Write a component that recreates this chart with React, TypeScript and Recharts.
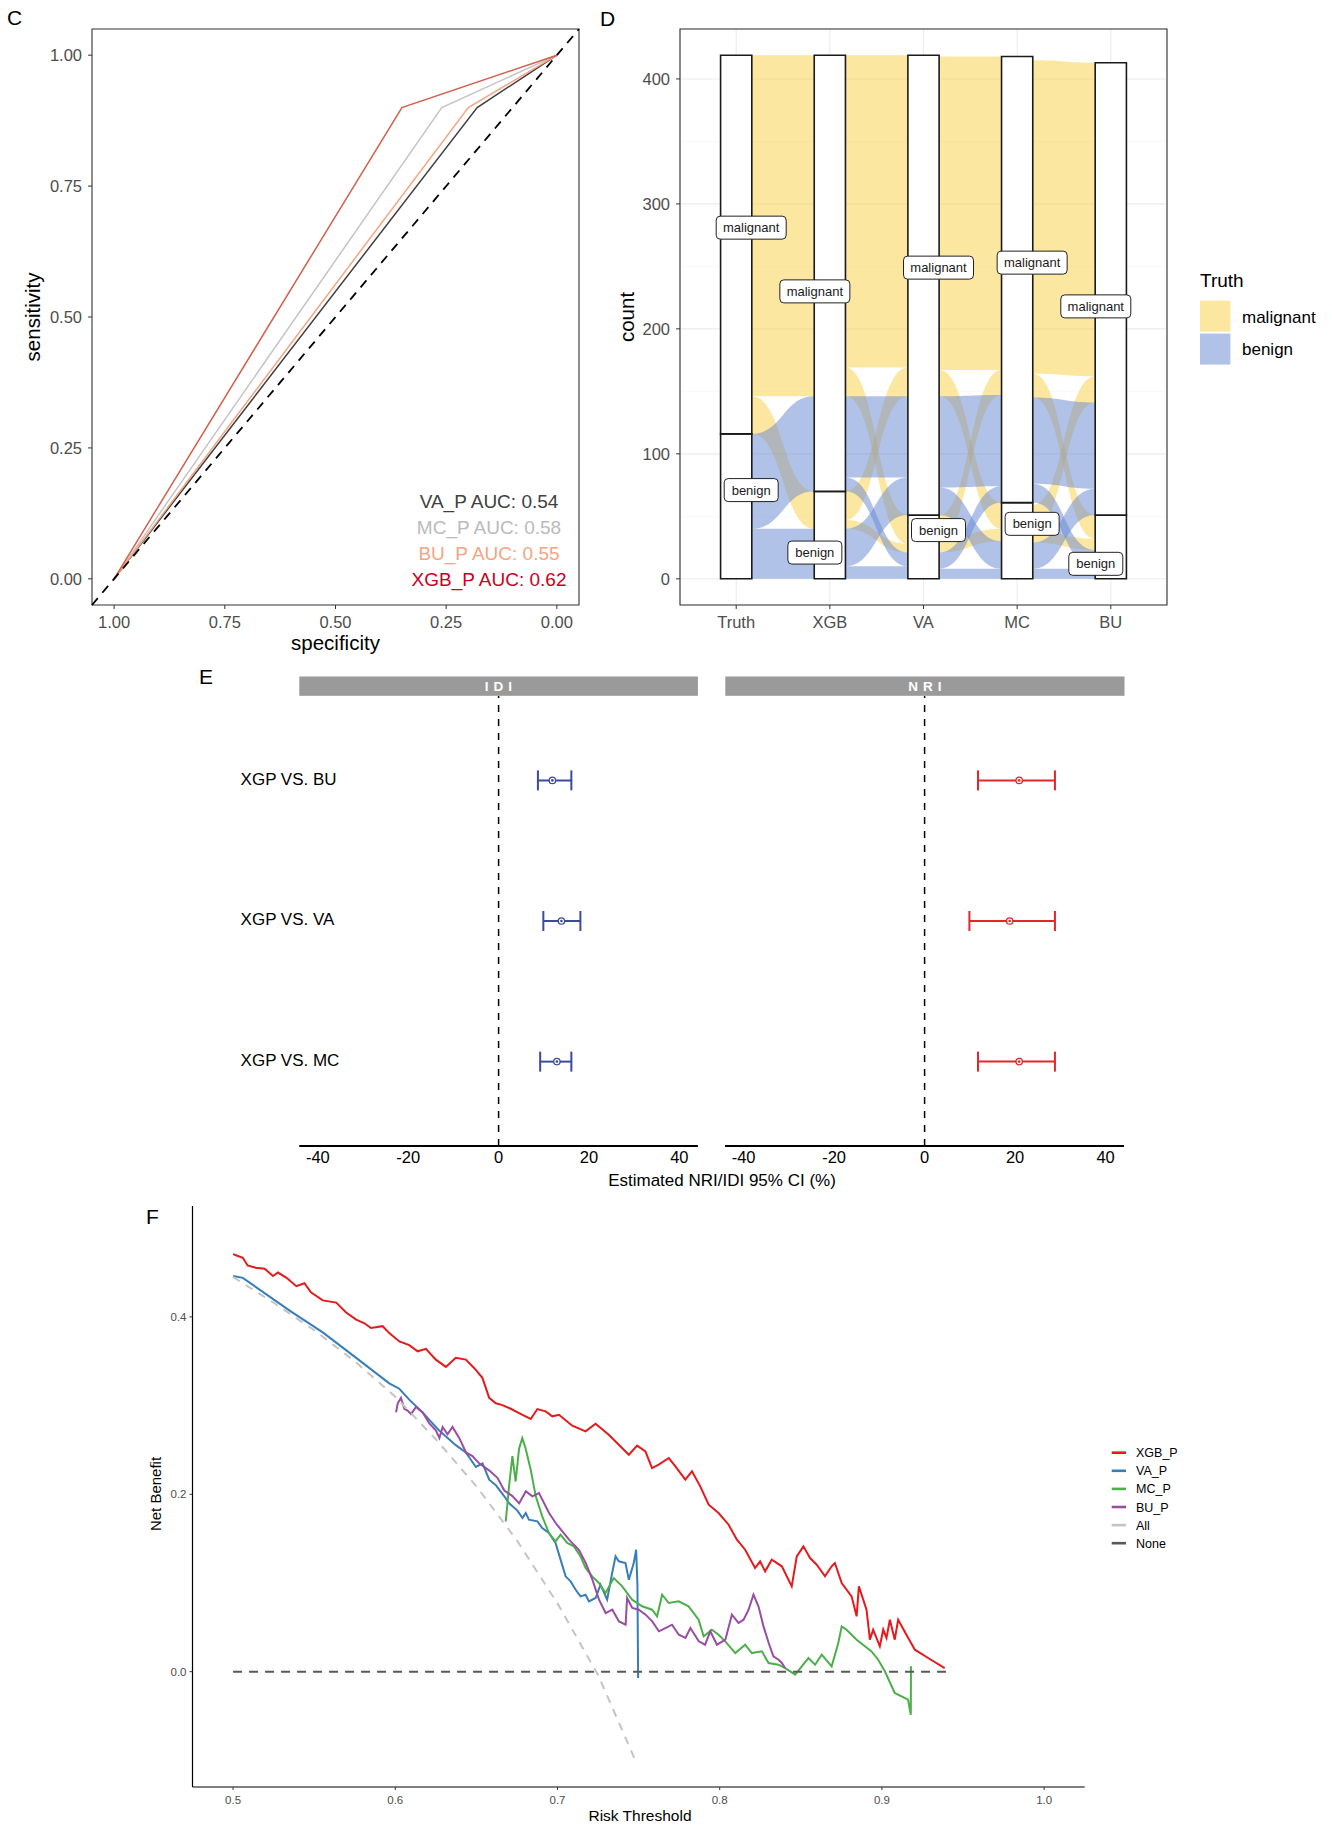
import React from "react";
import {
  ComposedChart,
  LineChart,
  Line,
  Area,
  Scatter,
  ErrorBar,
  XAxis,
  YAxis,
  CartesianGrid,
  ReferenceArea,
  ReferenceLine,
} from "recharts";

const FONT = "'Liberation Sans', Arial, Helvetica, sans-serif";
const TICK_GREY = "#4d4d4d";

// ---------- C: ROC curves ----------
const rocModels = ["VA_P", "MC_P", "BU_P", "XGB_P"];
const rocTextColors = ["#404040", "#bababa", "#f4a582", "#ca0020"];
const rocLineColors = ["#404040", "#c4c4c4", "#f4a582", "#d35f4c"];
const rocKneeSpec = [0.18, 0.26, 0.2, 0.35];
const rocKneeSens = [0.9, 0.9, 0.9, 0.9];
const rocAuc = ["0.54", "0.58", "0.55", "0.62"];
const rocTicks = [0, 0.25, 0.5, 0.75, 1];

// ---------- D: alluvial ----------
const axesD = ["Truth", "XGB", "VA", "MC", "BU"];
const benignCount = [116, 70, 51, 61, 51];
const malignantCount = [303, 349, 368, 357, 362];
// [from stratum, to stratum, truth, count], 0 = benign, 1 = malignant
const flowsTruthXgb = [[0, 0, 0, 40], [0, 1, 0, 76], [1, 0, 1, 30], [1, 1, 1, 273]];
const flowsXgbVa = [
  [0, 0, 0, 10], [0, 1, 0, 30], [1, 0, 0, 11], [1, 1, 0, 65],
  [0, 0, 1, 7], [0, 1, 1, 23], [1, 0, 1, 23], [1, 1, 1, 250],
];
const flowsVaMc = [
  [0, 0, 0, 8], [0, 1, 0, 13], [1, 0, 0, 22], [1, 1, 0, 73],
  [0, 0, 1, 10], [0, 1, 1, 20], [1, 0, 1, 21], [1, 1, 1, 251],
];
const flowsMcBu = [
  [0, 0, 0, 8], [0, 1, 0, 21], [1, 0, 0, 15], [1, 1, 0, 69],
  [0, 0, 1, 9], [0, 1, 1, 21], [1, 0, 1, 19], [1, 1, 1, 251],
];
const labelHeightBenign = [71, 21, 39, 44, 12];
const labelHeightMalignant = [281, 230, 249, 253, 218];
const labelNudge = [15, -15, 15, 15, -15];
const truthColors = ["#6385d1", "#f9cf41"];

// ---------- E: IDI / NRI ----------
const comparisons = ["XGP VS. BU", "XGP VS. VA", "XGP VS. MC"];
const idiEst = [11.9, 13.9, 12.9];
const idiLow = [8.7, 9.9, 9.2];
const idiHigh = [16.1, 18.1, 16.1];
const nriEst = [20.9, 18.8, 20.9];
const nriLow = [11.8, 9.9, 11.8];
const nriHigh = [28.8, 28.8, 28.8];
const eTicks = [-40, -20, 0, 20, 40];

// ---------- F: decision curves ----------
const xgbCurve = [
  [0.5, 0.4707], [0.503, 0.4686], [0.506, 0.4666], [0.509, 0.458], [0.514, 0.4555], [0.5195, 0.4543],
  [0.5246, 0.446], [0.5277, 0.45], [0.533, 0.444], [0.539, 0.4346], [0.544, 0.4379], [0.548, 0.4276],
  [0.5553, 0.4186], [0.5636, 0.4161], [0.5697, 0.405], [0.5759, 0.3969], [0.581, 0.3928], [0.585, 0.3874],
  [0.5922, 0.3895], [0.5963, 0.3817], [0.6025, 0.3723], [0.6086, 0.3682], [0.6138, 0.3612], [0.6189, 0.364],
  [0.625, 0.3518], [0.6312, 0.3436], [0.6373, 0.3538], [0.6435, 0.3518], [0.6486, 0.3424], [0.6537, 0.3313],
  [0.6579, 0.3087], [0.662, 0.3026], [0.666, 0.3005], [0.6712, 0.2964], [0.6763, 0.2916], [0.6835, 0.2849],
  [0.6876, 0.2961], [0.6927, 0.2935], [0.6968, 0.2879], [0.7009, 0.2897], [0.7091, 0.2773], [0.7173, 0.271],
  [0.7235, 0.2796], [0.7316, 0.2672], [0.744, 0.2446], [0.7491, 0.2548], [0.7542, 0.2484], [0.7583, 0.2296],
  [0.7624, 0.2334], [0.7686, 0.2409], [0.7727, 0.2315], [0.7788, 0.2165], [0.7829, 0.2259], [0.788, 0.2089],
  [0.7932, 0.1883], [0.7993, 0.1789], [0.8055, 0.1657], [0.8106, 0.1488], [0.8157, 0.1375], [0.8218, 0.1169],
  [0.8249, 0.1244], [0.828, 0.1131], [0.8321, 0.1263], [0.8383, 0.1188], [0.8444, 0.0962], [0.8475, 0.13],
  [0.8516, 0.1413], [0.8557, 0.1281], [0.8598, 0.1206], [0.8649, 0.1075], [0.869, 0.1188], [0.871, 0.1225],
  [0.8752, 0.1], [0.8813, 0.0849], [0.8844, 0.0624], [0.8858, 0.0962], [0.8905, 0.0699], [0.8926, 0.0361],
  [0.8946, 0.0474], [0.8987, 0.0286], [0.9008, 0.0474], [0.9028, 0.038], [0.9049, 0.0586], [0.9079, 0.0361],
  [0.91, 0.0586], [0.9151, 0.0417], [0.9203, 0.0248], [0.9285, 0.0154], [0.9387, 0.0041],
];
const vaCurve = [
  [0.5, 0.4461], [0.506, 0.444], [0.5349, 0.4071], [0.5553, 0.3825], [0.5759, 0.3538], [0.5963, 0.3251],
  [0.6025, 0.319], [0.6086, 0.3067], [0.6168, 0.2923], [0.6271, 0.2718], [0.6373, 0.2554], [0.6435, 0.2472],
  [0.6497, 0.2308], [0.6538, 0.2349], [0.6579, 0.2165], [0.662, 0.2103], [0.6671, 0.198], [0.6702, 0.1898],
  [0.6753, 0.1816], [0.6784, 0.1733], [0.6804, 0.1789], [0.6824, 0.1714], [0.6876, 0.1695], [0.6906, 0.162],
  [0.6947, 0.1563], [0.6988, 0.1451], [0.7019, 0.1263], [0.705, 0.1075], [0.7081, 0.1018], [0.7112, 0.0924],
  [0.7142, 0.0849], [0.7173, 0.0868], [0.7194, 0.0793], [0.7235, 0.0831], [0.7265, 0.0981], [0.7306, 0.0812],
  [0.7337, 0.1112], [0.7358, 0.13], [0.7378, 0.1244], [0.7419, 0.1225], [0.744, 0.1037], [0.747, 0.1225],
  [0.7485, 0.1375], [0.7493, 0.0962], [0.7497, -0.0071],
];
const mcCurve = [
  [0.6681, 0.1693], [0.6702, 0.2103], [0.6722, 0.2431], [0.6742, 0.2144], [0.6763, 0.2513], [0.6783, 0.2634],
  [0.6804, 0.2513], [0.6835, 0.2277], [0.6866, 0.1977], [0.6906, 0.1751], [0.6947, 0.1563], [0.6988, 0.1469],
  [0.7019, 0.1545], [0.706, 0.1451], [0.7101, 0.1413], [0.7142, 0.13], [0.7173, 0.1169], [0.7214, 0.1075],
  [0.7255, 0.1], [0.7296, 0.0887], [0.7347, 0.1056], [0.7399, 0.0962], [0.746, 0.0812], [0.7522, 0.0737],
  [0.7583, 0.0699], [0.7614, 0.0624], [0.7645, 0.0868], [0.7686, 0.0774], [0.7747, 0.0793], [0.7808, 0.0737],
  [0.787, 0.0586], [0.7901, 0.0398], [0.7952, 0.0473], [0.7993, 0.0417], [0.8034, 0.0342], [0.8096, 0.021],
  [0.8157, 0.0304], [0.8198, 0.021], [0.826, 0.0229], [0.8301, 0.0098], [0.8362, 0.0079], [0.8404, 0.0041],
  [0.8465, -0.0034], [0.8506, 0.006], [0.8547, 0.0154], [0.8588, 0.0079], [0.8629, 0.0192], [0.869, 0.006],
  [0.8731, 0.0323], [0.8752, 0.0511], [0.8782, 0.0473], [0.8844, 0.0361], [0.8936, 0.0229], [0.8977, 0.0135],
  [0.9018, 0.0004], [0.9079, -0.024], [0.9161, -0.0316], [0.9178, -0.0485], [0.9179, 0.006],
];
const buCurve = [
  [0.6005, 0.2923], [0.6015, 0.3026], [0.6035, 0.3087], [0.6056, 0.2964], [0.6076, 0.2944], [0.6097, 0.2903],
  [0.6128, 0.2985], [0.6169, 0.2923], [0.621, 0.28], [0.6251, 0.2718], [0.6272, 0.2636], [0.6292, 0.2759],
  [0.6322, 0.2677], [0.6353, 0.2759], [0.6394, 0.2636], [0.6436, 0.2472], [0.6476, 0.2431], [0.6517, 0.2349],
  [0.658, 0.2267], [0.663, 0.2185], [0.6672, 0.2042], [0.6722, 0.198], [0.6764, 0.1898], [0.6805, 0.2033],
  [0.6845, 0.1977], [0.6886, 0.2014], [0.6948, 0.1789], [0.6989, 0.1676], [0.703, 0.1582], [0.7071, 0.1488],
  [0.7132, 0.1375], [0.7174, 0.1225], [0.7215, 0.1037], [0.7256, 0.0812], [0.7297, 0.0661], [0.7338, 0.0699],
  [0.7379, 0.0567], [0.742, 0.053], [0.7429, 0.0831], [0.7461, 0.0718], [0.7501, 0.0699], [0.7543, 0.0643],
  [0.7584, 0.0567], [0.7625, 0.0455], [0.7665, 0.0492], [0.7706, 0.053], [0.7748, 0.0417], [0.7789, 0.038],
  [0.7819, 0.0492], [0.7871, 0.0342], [0.791, 0.0304], [0.7942, 0.0455], [0.7983, 0.0304], [0.8035, 0.0361],
  [0.8075, 0.0643], [0.8116, 0.0549], [0.8147, 0.0586], [0.8178, 0.0699], [0.8208, 0.0868], [0.8239, 0.0737],
  [0.827, 0.0511], [0.8302, 0.0323], [0.8331, 0.0173], [0.8363, 0.0135], [0.8383, 0.0098], [0.8403, 0.0041],
];
const allCurve = [
  [0.5, 0.445], [0.525, 0.416], [0.55, 0.385], [0.575, 0.35], [0.6, 0.31], [0.625, 0.262],
  [0.65, 0.209], [0.675, 0.148], [0.7, 0.077], [0.7251, -0.004], [0.748, -0.1],
];
const noneCurve = [[0.5, 0], [0.94, 0]];
const dcaNames = ["XGB_P", "VA_P", "MC_P", "BU_P", "All", "None"];
const dcaColors = ["#e41a1c", "#377eb8", "#4daf4a", "#984ea3", "#c4c4c4", "#595959"];
const dcaCurves = [xgbCurve, vaCurve, mcCurve, buCurve, allCurve, noneCurve];

// ---------- derived tables ----------
const rocRows = (() => {
  const xs = Array.from(new Set([1, ...rocKneeSpec, 0])).sort((a, b) => b - a);
  return xs.map((spec) => {
    const row: any = { spec };
    rocModels.forEach((m, i) => {
      if (spec === 1) row[m] = 0;
      else if (spec === 0) row[m] = 1;
      else if (spec === rocKneeSpec[i]) row[m] = rocKneeSens[i];
    });
    return row;
  });
})();

const HALF = 1 / 6;
const ribbons: { key: string; truth: number }[] = [];
const flowRows: any[] = [];
[flowsTruthXgb, flowsXgbVa, flowsVaMc, flowsMcBu].forEach((flows, g) => {
  const place = (axis: number, own: number, other: number) => {
    const out: number[][] = [];
    [0, 1].forEach((s) => {
      let y = s === 0 ? 0 : benignCount[axis];
      flows
        .map((_, i) => i)
        .filter((i) => flows[i][own] === s)
        .sort((a, b) => flows[a][2] - flows[b][2] || flows[a][other] - flows[b][other])
        .forEach((i) => {
          out[i] = [y, y + flows[i][3]];
          y += flows[i][3];
        });
    });
    return out;
  };
  const lp = place(g, 0, 1);
  const rp = place(g + 1, 1, 0);
  const left: any = { x: g + HALF };
  const right: any = { x: g + 1 - HALF };
  flows.forEach((f, i) => {
    const key = `f${g}_${i}`;
    left[key] = lp[i];
    right[key] = rp[i];
    ribbons.push({ key, truth: f[2] });
  });
  flowRows.push(left, right);
});
// malignant first so benign ribbons lie on top (grey crossings)
ribbons.sort((a, b) => b.truth - a.truth);

const stratumLabels = axesD.flatMap((_, i) => [
  { x: i, y: labelHeightBenign[i], label: "benign", dx: labelNudge[i] },
  { x: i, y: labelHeightMalignant[i], label: "malignant", dx: labelNudge[i] },
]);

const idiRows = comparisons.map((_, i) => ({
  row: i,
  est: idiEst[i],
  err: [idiEst[i] - idiLow[i], idiHigh[i] - idiEst[i]],
}));
const nriRows = comparisons.map((_, i) => ({
  row: i,
  est: nriEst[i],
  err: [nriEst[i] - nriLow[i], nriHigh[i] - nriEst[i]],
}));

const dcaRows = (() => {
  const map = new Map<number, any>();
  dcaCurves.forEach((curve, k) => {
    curve.forEach(([t, v]) => {
      if (!map.has(t)) map.set(t, { t });
      map.get(t)[dcaNames[k]] = v;
    });
  });
  return Array.from(map.values()).sort((a, b) => a.t - b.t);
})();

// ---------- small renderers ----------
const StratumLabel = (props: any) => {
  const { cx, cy, payload } = props;
  const w = payload.label === "malignant" ? 70 : 54;
  const x = cx + payload.dx;
  return (
    <g>
      <rect x={x - w / 2} y={cy - 11.5} width={w} height={23} rx={4} fill="#fff" stroke="#222" strokeWidth={1} />
      <text x={x} y={cy + 4.6} textAnchor="middle" fontSize={13} fontFamily={FONT} fill="#1a1a1a">
        {payload.label}
      </text>
    </g>
  );
};

const pointShape = (color: string) => (props: any) => {
  const { cx, cy } = props;
  return (
    <g>
      <circle cx={cx} cy={cy} r={3.2} fill="#fff" stroke={color} strokeWidth={1.3} />
      <circle cx={cx} cy={cy} r={1.3} fill={color} />
    </g>
  );
};

const RowTick = (props: any) => (
  <text x={60.6} y={props.y} dy={4.5} fontSize={17} fontFamily={FONT} fill="#000">
    {comparisons[props.payload.value]}
  </text>
);

const absolute = (left: number, top: number): React.CSSProperties => ({ position: "absolute", left, top });

function RocPanel() {
  return (
    <div style={absolute(0, 0)}>
      <LineChart width={600} height={660} data={rocRows} margin={{ top: 29, right: 21, bottom: 0, left: 0 }}>
        <XAxis
          type="number"
          dataKey="spec"
          domain={[-0.05, 1.05]}
          reversed
          allowDataOverflow
          ticks={rocTicks}
          tickFormatter={(v) => Number(v).toFixed(2)}
          axisLine={false}
          tickLine={{ stroke: "#333" }}
          tickSize={4}
          tickMargin={7}
          height={55}
          tick={{ fill: TICK_GREY, fontSize: 16.5, fontFamily: FONT }}
        />
        <YAxis
          type="number"
          domain={[-0.05, 1.05]}
          allowDataOverflow
          ticks={rocTicks}
          tickFormatter={(v) => Number(v).toFixed(2)}
          axisLine={false}
          tickLine={{ stroke: "#333" }}
          tickSize={4}
          tickMargin={6}
          width={92}
          tick={{ fill: TICK_GREY, fontSize: 16.5, fontFamily: FONT }}
        />
        {rocModels.map((m, i) => (
          <Line
            key={m}
            dataKey={m}
            stroke={rocLineColors[i]}
            strokeWidth={1.5}
            dot={false}
            connectNulls
            isAnimationActive={false}
          />
        ))}
        <ReferenceLine
          segment={[{ x: 1.05, y: -0.05 }, { x: -0.05, y: 1.05 }]}
          stroke="#000"
          strokeWidth={1.8}
          strokeDasharray="9 7"
          ifOverflow="visible"
        />
        <ReferenceArea x1={-0.05} x2={1.05} y1={-0.05} y2={1.05} fill="none" stroke="#333" strokeWidth={1.1} ifOverflow="visible" />
      </LineChart>
    </div>
  );
}

function AlluvialPanel() {
  return (
    <div style={absolute(600, 0)}>
      <ComposedChart width={732} height={660} data={flowRows} margin={{ top: 29, right: 165, bottom: 0, left: 0 }}>
        <CartesianGrid yAxisId="minor" vertical={false} stroke="#f4f4f4" strokeWidth={0.7} />
        <CartesianGrid stroke="#ebebeb" strokeWidth={1.1} />
        <XAxis
          type="number"
          dataKey="x"
          domain={[-0.6, 4.6]}
          allowDataOverflow
          ticks={[0, 1, 2, 3, 4]}
          tickFormatter={(v) => axesD[v]}
          axisLine={false}
          tickLine={{ stroke: "#333" }}
          tickSize={4}
          tickMargin={7}
          height={55}
          tick={{ fill: TICK_GREY, fontSize: 16.5, fontFamily: FONT }}
        />
        <YAxis
          type="number"
          domain={[-20.95, 439.95]}
          allowDataOverflow
          ticks={[0, 100, 200, 300, 400]}
          axisLine={false}
          tickLine={{ stroke: "#333" }}
          tickSize={4}
          tickMargin={6}
          width={80}
          tick={{ fill: TICK_GREY, fontSize: 16.5, fontFamily: FONT }}
        />
        <YAxis yAxisId="minor" hide type="number" domain={[-20.95, 439.95]} allowDataOverflow ticks={[50, 150, 250, 350]} />
        {ribbons.map((r) => (
          <Area
            key={r.key}
            dataKey={r.key}
            type="bumpX"
            stroke="none"
            fill={truthColors[r.truth]}
            fillOpacity={0.5}
            dot={false}
            activeDot={false}
            isAnimationActive={false}
          />
        ))}
        {axesD.map((a, i) => (
          <ReferenceArea
            key={a + "b"}
            x1={i - HALF}
            x2={i + HALF}
            y1={0}
            y2={benignCount[i]}
            fill="#fff"
            fillOpacity={1}
            stroke="#1a1a1a"
            strokeWidth={1.6}
          />
        ))}
        {axesD.map((a, i) => (
          <ReferenceArea
            key={a + "m"}
            x1={i - HALF}
            x2={i + HALF}
            y1={benignCount[i]}
            y2={benignCount[i] + malignantCount[i]}
            fill="#fff"
            fillOpacity={1}
            stroke="#1a1a1a"
            strokeWidth={1.6}
          />
        ))}
        <ReferenceArea x1={-0.6} x2={4.6} y1={-20.95} y2={439.95} fill="none" stroke="#333" strokeWidth={1.1} ifOverflow="visible" />
        <Scatter data={stratumLabels} dataKey="y" shape={StratumLabel} isAnimationActive={false} />
      </ComposedChart>
    </div>
  );
}

function ForestFacet({ rows, color, left, width, showRows }: any) {
  return (
    <div style={absolute(left, 695.8)}>
      <ComposedChart width={width} height={500} margin={{ top: 0, right: 0, bottom: 0, left: 0 }}>
        <XAxis
          type="number"
          dataKey="est"
          domain={[-44.1, 44.1]}
          allowDataOverflow
          ticks={eTicks}
          axisLine={{ stroke: "#000", strokeWidth: 2.2 }}
          tickLine={false}
          tickSize={3}
          tickMargin={2}
          height={50}
          tick={{ fill: "#000", fontSize: 16.5, fontFamily: FONT }}
        />
        <YAxis
          type="number"
          dataKey="row"
          domain={[-0.6, 2.6]}
          reversed
          ticks={[0, 1, 2]}
          hide={!showRows}
          width={showRows ? 119.3 : 0}
          axisLine={false}
          tickLine={false}
          tick={RowTick}
        />
        <ReferenceLine x={0} stroke="#000" strokeWidth={1.5} strokeDasharray="7 7" />
        <Scatter data={rows} shape={pointShape(color)} isAnimationActive={false}>
          <ErrorBar dataKey="err" direction="x" width={10} stroke={color} strokeWidth={2} />
        </Scatter>
      </ComposedChart>
    </div>
  );
}

function DecisionPanel() {
  return (
    <div style={absolute(130, 1200)}>
      <LineChart width={1202} height={627} data={dcaRows} margin={{ top: 6, right: 247.3, bottom: 0, left: 0 }}>
        <XAxis
          type="number"
          dataKey="t"
          domain={[0.475, 1.025]}
          allowDataOverflow
          ticks={[0.5, 0.6, 0.7, 0.8, 0.9, 1]}
          tickFormatter={(v) => Number(v).toFixed(1)}
          axisLine={{ stroke: "#000", strokeWidth: 1.2 }}
          tickLine={{ stroke: "#333" }}
          tickSize={3}
          tickMargin={6}
          height={40}
          tick={{ fill: TICK_GREY, fontSize: 11.5, fontFamily: FONT }}
        />
        <YAxis
          type="number"
          domain={[-0.13, 0.525]}
          allowDataOverflow
          ticks={[0, 0.2, 0.4]}
          tickFormatter={(v) => Number(v).toFixed(1)}
          axisLine={{ stroke: "#000", strokeWidth: 1.2 }}
          tickLine={{ stroke: "#333" }}
          tickSize={3}
          tickMargin={3}
          width={62.5}
          tick={{ fill: TICK_GREY, fontSize: 11.5, fontFamily: FONT }}
        />
        {dcaNames.map((n, k) => (
          <Line
            key={n}
            dataKey={n}
            stroke={dcaColors[k]}
            strokeWidth={2}
            strokeDasharray={n === "All" ? "8 7" : n === "None" ? "9 7" : undefined}
            dot={false}
            connectNulls
            isAnimationActive={false}
          />
        ))}
      </LineChart>
    </div>
  );
}

function Overlay() {
  const aucBaselines = [508, 534, 560, 585.5];
  return (
    <svg
      width={1332}
      height={1827}
      style={{ position: "absolute", left: 0, top: 0, pointerEvents: "none" }}
      fontFamily={FONT}
    >
      <text x={7} y={25} fontSize={21}>C</text>
      <text x={600} y={25.5} fontSize={21}>D</text>
      <text x={199} y={684} fontSize={21}>E</text>
      <text x={146} y={1224} fontSize={21}>F</text>

      <text transform="translate(39.5,317) rotate(-90)" textAnchor="middle" fontSize={20.5}>sensitivity</text>
      <text x={335.5} y={650} textAnchor="middle" fontSize={20.5}>specificity</text>
      {rocModels.map((m, i) => (
        <text key={m} x={489} y={aucBaselines[i]} textAnchor="middle" fontSize={19} fill={rocTextColors[i]}>
          {`${m} AUC: ${rocAuc[i]}`}
        </text>
      ))}

      <text transform="translate(634,317) rotate(-90)" textAnchor="middle" fontSize={20.5}>count</text>
      <text x={1200} y={287} fontSize={19}>Truth</text>
      <rect x={1200} y={300.6} width={30.4} height={31} fill={truthColors[1]} fillOpacity={0.5} />
      <rect x={1200} y={333.6} width={30.4} height={31} fill={truthColors[0]} fillOpacity={0.5} />
      <text x={1242} y={323} fontSize={17}>malignant</text>
      <text x={1242} y={355} fontSize={17}>benign</text>

      <rect x={299.3} y={676.5} width={398.6} height={19.3} fill="#9a9a9a" />
      <rect x={725.3} y={676.5} width={399.2} height={19.3} fill="#9a9a9a" />
      <text x={501} y={691} textAnchor="middle" fontSize={13.5} fontWeight="bold" fill="#fff" letterSpacing={5}>IDI</text>
      <text x={927.4} y={691} textAnchor="middle" fontSize={13.5} fontWeight="bold" fill="#fff" letterSpacing={5}>NRI</text>
      <text x={722} y={1186} textAnchor="middle" fontSize={17}>Estimated NRI/IDI 95% CI (%)</text>

      <text transform="translate(161,1494) rotate(-90)" textAnchor="middle" fontSize={15}>Net Benefit</text>
      <text x={640} y={1821} textAnchor="middle" fontSize={15.5}>Risk Threshold</text>
      {dcaNames.map((n, k) => (
        <g key={n}>
          <line x1={1111.7} x2={1126} y1={1452.7 + k * 18.1} y2={1452.7 + k * 18.1} stroke={dcaColors[k]} strokeWidth={2.6} />
          <text x={1136} y={1452.7 + k * 18.1 + 4.5} fontSize={12.5}>{n}</text>
        </g>
      ))}
    </svg>
  );
}

export default function App() {
  return (
    <div style={{ position: "absolute", left: 0, top: 0, width: 1332, height: 1827, background: "#fff", fontFamily: FONT }}>
      <RocPanel />
      <AlluvialPanel />
      <ForestFacet rows={idiRows} color="#3c4a9c" left={180} width={517.9} showRows />
      <ForestFacet rows={nriRows} color="#e3262b" left={725.3} width={399.2} showRows={false} />
      <DecisionPanel />
      <Overlay />
    </div>
  );
}
